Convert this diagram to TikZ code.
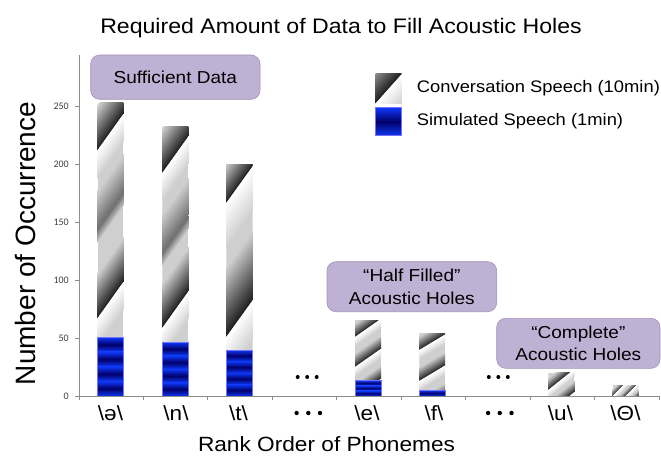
\documentclass[tikz,border=0pt]{standalone}
\usepackage{fontspec}
\setmainfont{Liberation Sans}
\newfontfamily\wide[FakeStretch=1.1]{Liberation Sans}
\newfontfamily\tickf{Carlito}
\definecolor{lgr}{HTML}{CFCFCF}
\definecolor{dkg}{HTML}{1C1C1C}
\definecolor{mdg}{HTML}{6E6E6E}
\definecolor{bb}{RGB}{15,55,245}
\definecolor{db}{RGB}{0,0,105}
\definecolor{boxfill}{HTML}{BFB1D3}
\definecolor{boxdraw}{HTML}{A393BC}
\definecolor{axisc}{HTML}{8C8C8C}
\newcommand\band[7]{%
  \pgfmathsetmacro\cc{#3+#4*#1}%
  \begin{scope}[transform canvas={yslant=#4}]
    \shade[top color=lgr, bottom color=#7] (#1-2,\cc-#5) rectangle (#2+2,\cc);
    \shade[top color=white, bottom color=lgr] (#1-2,\cc) rectangle (#2+2,\cc+#6);
  \end{scope}}
\newcommand\sband[7]{%
  \pgfmathsetmacro\cc{#3+#4*#1}%
  \begin{scope}[transform canvas={yslant=#4}]
    \shade[top color=lgr, bottom color=#7] (#1-2,\cc-#5) rectangle (#2+2,\cc);
    \shade[top color=#7, bottom color=lgr] (#1-2,\cc) rectangle (#2+2,\cc+#6);
  \end{scope}}
\newcommand\gbar[5]{%
  \begin{scope}
    \clip (#1,#3) rectangle (#2,#4);
    \fill[lgr] (#1,#3) rectangle (#2,#4);
    #5
  \end{scope}}
\newcommand\bbar[5]{%
  \begin{scope}
    \clip (#1,#3) rectangle (#2,#4);
    \pgfmathsetmacro\pp{(#4-#3)/#5}
    \foreach \k in {1,...,#5}{
      \shade[top color=bb, bottom color=bb, middle color=db]
        (#1,{#3+(\k-1)*\pp}) rectangle (#2,{#3+\k*\pp});}
  \end{scope}
  \draw[blue!55!white, line width=0.5pt] (#1,#3) rectangle (#2,#4);}
\begin{document}
\begin{tikzpicture}[x=1pt,y=-1pt,
  axisline/.style={draw=axisc, line width=0.9pt},
  lbox/.style={draw=boxdraw, fill=boxfill, rounded corners=9pt, line width=0.6pt,
    align=center, inner sep=0pt, text=black},
  cat/.style={font=\wide\fontsize{20.5}{24}\selectfont, anchor=base},
  ticklab/.style={font=\tickf\fontsize{10}{12}\selectfont, text=black!75, anchor=east, inner sep=0pt},
  legtext/.style={font=\wide\fontsize{16.7}{20}\selectfont, anchor=west, inner sep=0pt, text=black},
  dotc/.style={fill=black}]
\useasboundingbox (0,0) rectangle (661,457);
\fill[white] (0,0) rectangle (661,457);

% title
\node[font=\wide\fontsize{21}{25}\selectfont, anchor=base] (title) at (341,33.3)
  {Required Amount of Data to Fill Acoustic Holes};

% axis titles
\node[font=\fontsize{28}{32}\selectfont, anchor=base, rotate=90] (ylab) at (35,243.5)
  {Number of Occurrence};
\node[font=\wide\fontsize{20.6}{24}\selectfont, anchor=base] (xlab) at (326.5,451.5)
  {Rank Order of Phonemes};

% bars: grey parts
\gbar{97.7}{123.3}{103}{337.3}{%
  \band{97.7}{123.3}{150}{1.4}{45}{28}{dkg}%
  \sband{97.7}{123.3}{228}{1.4}{38}{14}{mdg}%
  \band{97.7}{123.3}{318}{1.4}{45}{28}{dkg}}
\gbar{162.3}{188.3}{126.7}{342.3}{%
  \band{162.3}{188.3}{173}{1.4}{45}{28}{dkg}%
  \sband{162.3}{188.3}{252}{1.4}{38}{14}{mdg}%
  \band{162.3}{188.3}{328}{1.4}{45}{28}{dkg}}
\gbar{226.3}{252.7}{164.3}{350}{%
  \band{226.3}{252.7}{203}{1.39}{40}{45}{dkg}%
  \band{226.3}{252.7}{337}{1.39}{70}{40}{dkg}}
\gbar{355}{381}{320}{380.7}{%
  \band{355}{381}{337}{0.7}{14}{9}{dkg}%
  \band{355}{381}{367}{0.7}{14}{9}{dkg}%
  \band{355}{381}{397}{0.7}{14}{9}{dkg}}
\gbar{419.3}{445}{333.3}{390.3}{%
  \band{419.3}{445}{350}{0.6}{14}{9}{dkg}%
  \band{419.3}{445}{381}{0.6}{14}{9}{dkg}%
  \band{419.3}{445}{412}{0.6}{14}{9}{dkg}}
\gbar{548.3}{574.3}{372.7}{396}{%
  \band{548.3}{574.3}{390}{0.8}{12}{8}{dkg}%
  \band{548.3}{574.3}{413}{0.8}{12}{8}{dkg}}
\gbar{612.7}{638.3}{385}{396}{%
  \band{612.7}{638.3}{396}{1}{7}{5}{dkg}%
  \band{612.7}{638.3}{409}{1}{7}{5}{dkg}%
  \band{612.7}{638.3}{422}{1}{7}{5}{dkg}}

% bars: blue parts
\bbar{97.7}{123.3}{337.3}{396}{4}
\bbar{162.3}{188.3}{342.3}{396}{4}
\bbar{226.3}{252.7}{350}{396}{4}
\bbar{355}{381}{380.7}{396}{3}
\bbar{419.3}{445}{390.3}{396}{1}

% axes
\draw[axisline] (79,55) -- (79,396.5);
\draw[axisline] (78.5,396) -- (660,396);
\foreach \v in {0,50,...,250}{
  \pgfmathsetmacro\yy{396-\v*1.1572}
  \draw[axisline] (75,\yy) -- (79,\yy);
  \node[ticklab] (t\v) at (69,\yy) {\v};}
\foreach \k in {0,...,9}{
  \draw[axisline] ({79+64.44*\k},396) -- ({79+64.44*\k},400);}

% category labels
\node[cat] (c1) at (110.5,420) {\textbackslash ə\textbackslash};
\node[cat] (c2) at (176,420) {\textbackslash n\textbackslash};
\node[cat] (c3) at (238.5,420) {\textbackslash t\textbackslash};
\node[cat] (c5) at (367,420) {\textbackslash e\textbackslash};
\node[cat] (c6) at (434,420) {\textbackslash f\textbackslash};
\node[cat] (c8) at (560.5,420) {\textbackslash u\textbackslash};
\node[cat] (c9) at (625.5,420) {\textbackslash Θ\textbackslash};
\foreach \cx in {308.3,499.8}{
  \foreach \d in {-11.7,0,11.7}{\fill[dotc] (\cx+\d,413) circle (2.2);}}
\foreach \cx in {307.2,498.3}{
  \foreach \d in {-9.5,0,9.5}{\fill[dotc] (\cx+\d,377) circle (2.0);}}

% annotation boxes
\node[lbox, minimum width=169.3pt, minimum height=44.3pt,
  font=\wide\fontsize{17.3}{22}\selectfont] (b1) at (175.35,77.15) {Sufficient Data};
\node[lbox, minimum width=169.7pt, minimum height=50pt,
  font=\wide\fontsize{17.3}{22.6}\selectfont] (b2) at (411.85,286.7)
  {“Half Filled”\\Acoustic Holes};
\node[lbox, minimum width=163.3pt, minimum height=50pt,
  font=\wide\fontsize{17.3}{22.4}\selectfont] (b3) at (578.35,343.3)
  {“Complete”\\Acoustic Holes};

% legend
\gbar{375.7}{401.7}{74}{103.3}{%
  \band{375.7}{401.7}{103.3}{1.12}{48}{30}{dkg}}
\bbar{375.7}{401.7}{107.7}{135.7}{1}
\node[legtext] (l1) at (416.7,87.7) {Conversation Speech (10min)};
\node[legtext] (l2) at (416.7,121.3) {Simulated Speech (1min)};
\end{tikzpicture}
\end{document}
